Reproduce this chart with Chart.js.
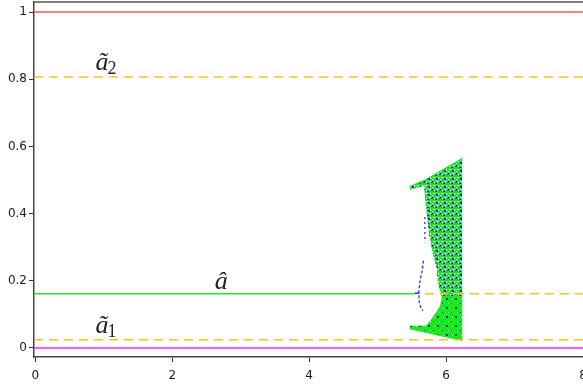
<!DOCTYPE html>
<html>
<head>
<meta charset="utf-8">
<script src="https://cdn.jsdelivr.net/npm/chart.js@4.4.1/dist/chart.umd.min.js"></script>
<style>
  html, body { margin: 0; padding: 0; background: #fff; }
  #wrap { width: 583px; height: 385px; }
</style>
</head>
<body>
<div id="wrap"><canvas id="chart"></canvas></div>
<script>
// tick labels
const xTicks = [0, 2, 4, 6, 8];
const yTicks = [0, 0.2, 0.4, 0.6, 0.8, 1];

// horizontal levels
const levelOne = 1;
const tildeA2 = 0.807;
const hatA = 0.161;
const tildeA1 = 0.024;
const levelZero = 0;
const hatEndX = 5.54;        // green a-hat branch stops here
const hatDashStartX = 5.69;  // dashed (unstable) part of a-hat starts here

// chaotic cloud, upper part (top edge / inner edge)
const cloudTopX = [5.47, 5.69, 6.24];
const cloudTopY = [0.481, 0.500, 0.565];
const upperInnerX = [5.47, 5.60, 5.68, 5.69, 5.70, 5.73, 5.76, 5.81, 5.86, 5.88, 5.93, 6.24];
const upperInnerY = [0.471, 0.478, 0.484, 0.45, 0.426, 0.376, 0.327, 0.277, 0.242, 0.193, 0.155, 0.150];

// chaotic cloud, lower part (bottom edge / inner edge)
const cloudBottomX = [5.47, 6.24];
const cloudBottomY = [0.057, 0.022];
const lowerInnerX = [5.47, 5.62, 5.71, 5.74, 5.81, 5.91, 5.95, 6.24];
const lowerInnerY = [0.066, 0.066, 0.067, 0.074, 0.093, 0.123, 0.165, 0.165];

// blue dashed branch next to the cloud
const blueStubX = [5.54, 5.61];
const blueStubY = [0.163, 0.163];
const blueCurveX = [5.67, 5.65, 5.62, 5.60, 5.61, 5.63, 5.66];
const blueCurveY = [0.26, 0.23, 0.20, 0.165, 0.135, 0.12, 0.11];
const blueColumnX = [5.69, 5.69];
const blueColumnY = [0.39, 0.315];

const pts = (xs, ys) => xs.map((x, i) => ({ x, y: ys[i] }));
const GREEN = '#14ee14';

function makePattern(size, whites, blues) {
  const c = document.createElement('canvas');
  c.width = size; c.height = size;
  const g = c.getContext('2d');
  g.fillStyle = GREEN;
  g.fillRect(0, 0, size, size);
  g.fillStyle = '#ffffff';
  whites.forEach(([x, y, w, h]) => g.fillRect(x, y, w, h));
  g.fillStyle = '#1a1aff';
  blues.forEach(([x, y, w, h]) => g.fillRect(x, y, w, h));
  return g.createPattern(c, 'repeat');
}
const upperPattern = makePattern(8,
  [[1, 1, 2, 1], [5, 5, 2, 1], [6, 1, 1, 2], [2, 6, 1, 1], [0, 3, 1, 1], [4, 4, 1, 1]],
  [[4, 2, 2, 2], [0, 5, 1, 2], [3, 7, 2, 1], [7, 6, 1, 1]]);
const lowerPattern = makePattern(9,
  [[2, 2, 1, 1], [7, 6, 1, 1]],
  [[5, 1, 2, 2], [1, 6, 1, 1]]);

function hLine(y, x0, x1, color, dash) {
  return {
    data: pts([x0, x1], [y, y]),
    borderColor: color, borderWidth: 1.5, borderDash: dash || [],
    pointRadius: 0, fill: false
  };
}

const datasets = [
  hLine(levelOne, -0.02, 8, '#ff5555'),
  hLine(tildeA2, -0.02, 8, '#ffc21a', [9, 6]),
  hLine(hatA, hatDashStartX, 8, '#ffc21a', [9, 6]),
  hLine(tildeA1, -0.02, 8, '#ffc21a', [9, 6]),
  hLine(hatA, -0.02, hatEndX, '#22e622'),
  hLine(levelZero, -0.02, 8, '#ff22ff'),
  { data: pts(blueStubX, blueStubY), borderColor: '#2a2aff', borderWidth: 1.5, pointRadius: 0, fill: false },
  { data: pts(blueCurveX, blueCurveY), borderColor: '#3a3aff', borderWidth: 1.4, borderDash: [3, 2], pointRadius: 0, fill: false },
  { data: pts(blueColumnX, blueColumnY), borderColor: '#3a3aff', borderWidth: 1.4, borderDash: [2, 3], pointRadius: 0, fill: false }
];
const topIdx = datasets.length;
datasets.push({ data: pts(cloudTopX, cloudTopY), borderColor: GREEN, borderWidth: 1, pointRadius: 0, fill: false });
datasets.push({ data: pts(upperInnerX, upperInnerY), borderColor: 'rgba(0,0,0,0)', borderWidth: 0, pointRadius: 0,
  fill: topIdx, backgroundColor: upperPattern });
const bottomIdx = datasets.length;
datasets.push({ data: pts(cloudBottomX, cloudBottomY), borderColor: GREEN, borderWidth: 1, pointRadius: 0, fill: false });
datasets.push({ data: pts(lowerInnerX, lowerInnerY), borderColor: 'rgba(0,0,0,0)', borderWidth: 0, pointRadius: 0,
  fill: bottomIdx, backgroundColor: lowerPattern });

const frame = {
  id: 'frame',
  afterDraw(chart) {
    const { ctx, chartArea: a } = chart;
    ctx.save();
    ctx.strokeStyle = '#555';
    ctx.lineWidth = 1.5;
    ctx.beginPath();
    ctx.moveTo(a.left, a.top);
    ctx.lineTo(a.right, a.top);
    ctx.stroke();
    ctx.restore();
  }
};

// math labels: a-tilde 2, a-hat, a-tilde 1
const labels = {
  id: 'labels',
  afterDatasetsDraw(chart) {
    const { ctx, scales: { x, y } } = chart;
    ctx.save();
    ctx.fillStyle = '#222';
    const put = (main, sub, xv, yv) => {
      const px = x.getPixelForValue(xv), py = y.getPixelForValue(yv);
      ctx.font = 'italic 26px "Liberation Serif"';
      ctx.fillText(main, px, py);
      const w = ctx.measureText(main).width;
      if (sub) {
        ctx.font = '18px "Liberation Serif"';
        ctx.fillText(sub, px + w - 1, py + 4);
      }
    };
    put('ã', '2', 0.88, 0.827);
    put('ã', '1', 0.88, 0.045);
    put('â', '', 2.62, 0.176);
    ctx.restore();
  }
};

new Chart(document.getElementById('chart'), {
  type: 'line',
  data: { datasets },
  options: {
    responsive: true,
    maintainAspectRatio: false,
    animation: false,
    layout: { padding: { top: 2, left: 0, right: 0, bottom: 0 } },
    plugins: { legend: { display: false }, tooltip: { enabled: false } },
    scales: {
      x: {
        type: 'linear', min: -0.019, max: 8,
        afterBuildTicks: s => { s.ticks = xTicks.map(v => ({ value: v })); },
        afterFit: s => { s.height = 28; s.paddingLeft = 0; s.paddingRight = 0; },
        grid: { drawOnChartArea: false, drawTicks: true, tickLength: 5, color: '#333', lineWidth: 1 },
        border: { display: true, color: '#444', width: 1.5 },
        ticks: { padding: 7, maxRotation: 0, autoSkip: false, color: '#1a1a1a',
          font: { family: 'DejaVu Sans', size: 12 }, callback: v => String(v) }
      },
      y: {
        type: 'linear', min: -0.027, max: 1.03,
        afterBuildTicks: s => { s.ticks = yTicks.map(v => ({ value: v })); },
        afterFit: s => { s.width = 34; s.paddingTop = 0; s.paddingBottom = 0; },
        grid: { drawOnChartArea: false, drawTicks: true, tickLength: 5, color: '#333', lineWidth: 1 },
        border: { display: true, color: '#444', width: 1.5 },
        ticks: { padding: 2, color: '#1a1a1a', font: { family: 'DejaVu Sans', size: 12 },
          callback: v => String(Math.round(v * 10) / 10) }
      }
    }
  },
  plugins: [frame, labels]
});
</script>
</body>
</html>
